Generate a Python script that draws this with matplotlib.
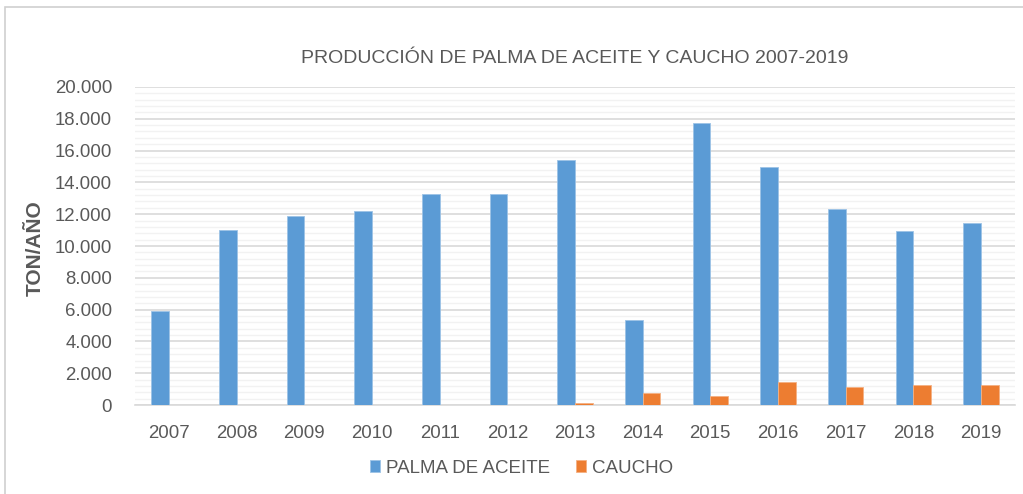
import matplotlib.pyplot as plt
import numpy as np
from matplotlib.patches import Rectangle
from matplotlib.ticker import FuncFormatter, MultipleLocator

years = ['2007', '2008', '2009', '2010', '2011', '2012', '2013',
         '2014', '2015', '2016', '2017', '2018', '2019']
palma = [5900, 11000, 11900, 12200, 13270, 13270, 15400,
         5350, 17750, 14970, 12300, 10950, 11450]
caucho = [0, 0, 0, 0, 0, 0, 100, 730, 600, 1450, 1150, 1260, 1260]

blue = '#5B9BD5'
orange = '#ED7D31'
txt = '#595959'

plt.rcParams['font.family'] = ['Liberation Sans', 'DejaVu Sans']

fig = plt.figure(figsize=(10.23, 4.94), dpi=100)
ax = fig.add_axes([0.132, 0.180, 0.860, 0.644])

x = np.arange(len(years))
w = 0.26
ax.bar(x - w / 2, palma, w, color=blue, edgecolor='#9DC3E6', linewidth=0.6,
       label='PALMA DE ACEITE', zorder=3)
ax.bar(x + w / 2, caucho, w, color=orange, edgecolor='#F4B183', linewidth=0.6,
       label='CAUCHO', zorder=3)

ax.set_xlim(-0.5, len(years) - 0.5)
ax.set_ylim(0, 20000)
ax.yaxis.set_major_locator(MultipleLocator(2000))
ax.yaxis.set_minor_locator(MultipleLocator(400))
ax.yaxis.set_major_formatter(FuncFormatter(lambda v, p: f'{int(v):,}'.replace(',', '.')))
ax.grid(axis='y', which='major', color='#D9D9D9', linewidth=1.2, zorder=0)
ax.grid(axis='y', which='minor', color='#F2F2F2', linewidth=1.0, zorder=0)
ax.set_xticks(x)
ax.set_xticklabels(years)
ax.tick_params(axis='both', which='both', length=0, labelsize=13.4, colors=txt)
ax.tick_params(axis='x', pad=14)
ax.tick_params(axis='y', pad=16.5)
for s in ['top', 'right', 'left']:
    ax.spines[s].set_visible(False)
ax.spines['bottom'].set_color('#D9D9D9')
ax.spines['bottom'].set_linewidth(1.2)

ax.set_title('PRODUCCIÓN DE PALMA DE ACEITE Y CAUCHO 2007-2019',
             fontsize=14, color=txt, pad=17)
fig.text(0.034, 0.498, 'TON/AÑO', rotation=90, ha='center', va='center',
         fontsize=15, fontweight='bold', color=txt)

ax.legend(loc='center', bbox_to_anchor=(0.439, -0.198), ncol=2, frameon=False,
          fontsize=13.5, labelcolor=txt, handlelength=0.55, handleheight=0.55,
          handletextpad=0.3, columnspacing=1.4)

fig.patches.append(Rectangle((0.005, -0.05), 1.1, 1.036, transform=fig.transFigure,
                             fill=False, edgecolor='#D0D0D0', linewidth=1.2))

fig.savefig('out.png', dpi=100)
